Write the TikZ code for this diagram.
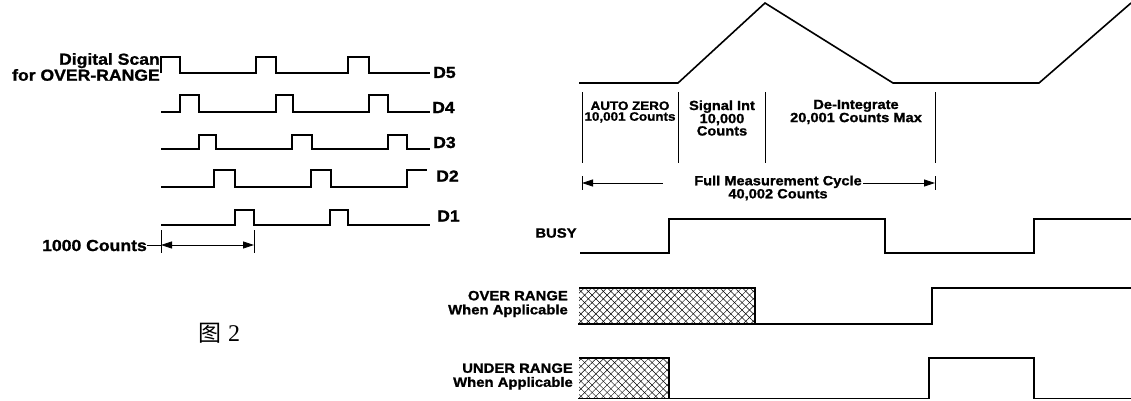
\documentclass[tikz,border=0pt]{standalone}
\usepackage{fontspec}
\newfontfamily\lbl{Liberation Sans}[FakeStretch=1.1,FakeBold=1.2]
\newfontfamily\cjk{Noto Sans CJK SC}
\newfontfamily\serifnum{Liberation Serif}
\usetikzlibrary{arrows.meta,patterns.meta}
\tikzset{
  wave/.style={line width=1.6pt, line join=miter},
  sepline/.style={line width=0.8pt},
  dimline/.style={line width=0.8pt},
  lab/.style={font=\lbl\bfseries\fontsize{16}{13}\selectfont, inner sep=0pt},
  tlab/.style={font=\lbl\bfseries\fontsize{13.3}{10.8}\selectfont, inner sep=0pt, align=center},
  slab/.style={font=\lbl\bfseries\fontsize{13.5}{14}\selectfont, inner sep=0pt, align=right},
  tipr/.style={-{Triangle[length=11pt,width=7pt]}},
  tipl/.style={{Triangle[length=11pt,width=7pt]}-},
  tipb/.style={{Triangle[length=11pt,width=7pt]}-{Triangle[length=11pt,width=7pt]}},
  hatchA/.style={pattern={Lines[angle=45,distance=5.3pt,line width=0.5pt]}},
  hatchB/.style={pattern={Lines[angle=-45,distance=5.3pt,line width=0.5pt]}},
}
\begin{document}
\begin{tikzpicture}[x=1pt,y=-1pt]
\useasboundingbox (0,0) rectangle (1131,400);

% ---------------- left: digital scan ----------------
\node[lab, align=right, anchor=east] (scan) at (160,67) {Digital Scan\\for OVER-RANGE};
\draw[wave] (161,73)--(161,57)--(180,57)--(180,73)--(256,73)--(256,57)--(276,57)--(276,73)--(348,73)--(348,57)--(369,57)--(369,73)--(430,73);
\draw[wave] (161,112)--(180,112)--(180,95)--(199,95)--(199,112)--(276,112)--(276,95)--(293,95)--(293,112)--(369,112)--(369,95)--(388,95)--(388,112)--(430,112);
\draw[wave] (161,149)--(199,149)--(199,135)--(216,135)--(216,149)--(292,149)--(292,135)--(312,135)--(312,149)--(388,149)--(388,135)--(407,135)--(407,149)--(430,149);
\draw[wave] (161,187)--(214,187)--(214,170)--(235,170)--(235,187)--(311,187)--(311,170)--(331,170)--(331,187)--(407,187)--(407,170)--(427,170);
\draw[wave] (161,225)--(235,225)--(235,210)--(254,210)--(254,225)--(330,225)--(330,210)--(348,210)--(348,225)--(430,225);
\node[lab, anchor=west] (d5) at (433,72.5) {D5};
\node[lab, anchor=west] (d4) at (432,107.5) {D4};
\node[lab, anchor=west] (d3) at (433,142.5) {D3};
\node[lab, anchor=west] (d2) at (436,176) {D2};
\node[lab, anchor=west] (d1) at (437,216) {D1};

% 1000 counts
\node[lab, anchor=east] (kc) at (147,245.5) {1000 Counts};
\coordinate (k1t) at (161,230); \coordinate (k1b) at (161,253);
\coordinate (k2t) at (254,230); \coordinate (k2b) at (254,253);
\coordinate (k1) at (161,245); \coordinate (k2) at (254,245);
\draw[sepline] (k1t) -- (k1b);
\draw[sepline] (k2t) -- (k2b);
\draw[dimline] (kc.east |- k1) -- (k1);
\draw[dimline, tipb] (k1) -- (k2);

% figure caption
\node[inner sep=0pt, font=\cjk\fontsize{23}{23}\selectfont] (figa) at (209.5,333.5) {图};
\node[inner sep=0pt, font=\serifnum\fontsize{24}{24}\selectfont] (figb) at (234,334) {2};

% ---------------- right: integrator ----------------
\draw[wave] (579,83)--(678,83)--(765,3)--(893,83)--(1039,83)--(1131,3);
\draw[sepline] (582,92)--(582,163);
\draw[sepline] (678,92)--(678,163);
\draw[sepline] (765,92)--(765,163);
\draw[sepline] (935,92)--(935,163);
\node[tlab, font=\lbl\bfseries\fontsize{12.2}{10.8}\selectfont] (az) at (630,112) {AUTO ZERO\\10,001 Counts};
\node[tlab] (si) at (722,118) {Signal Int\\10,000\\Counts};
\node[tlab] (di) at (856,112) {De-Integrate\\20,001 Counts Max};

% full cycle
\node[tlab] (fc) at (778,188) {Full Measurement Cycle\\40,002 Counts};
\coordinate (f1t) at (582,176); \coordinate (f1b) at (582,190);
\coordinate (f2t) at (935,176); \coordinate (f2b) at (935,190);
\coordinate (f1) at (582,183); \coordinate (f2) at (935,183);
\coordinate (f1e) at (663,183); \coordinate (f2s) at (863,183);
\draw[sepline] (f1t) -- (f1b);
\draw[sepline] (f2t) -- (f2b);
\draw[dimline, tipl] (f1) -- (f1e);
\draw[dimline, tipr] (f2s) -- (f2);

% BUSY
\node[slab] (busy) at (556,233) {BUSY};
\draw[wave] (580,253)--(669,253)--(669,219)--(885,219)--(885,253)--(1034,253)--(1034,219)--(1131,219);

% OVER RANGE
\node[slab, anchor=east] (ovr) at (568,304) {OVER RANGE\\When Applicable};
\fill[hatchA] (579,288) rectangle (755,324);
\fill[hatchB] (579,288) rectangle (755,324);
\draw[wave] (579,288)--(755,288)--(755,324);
\draw[wave] (578,324)--(932,324)--(932,288)--(1131,288);

% UNDER RANGE
\node[slab, anchor=east] (udr) at (573,376.5) {UNDER RANGE\\When Applicable};
\fill[hatchA] (579,358) rectangle (669,398.5);
\fill[hatchB] (579,358) rectangle (669,398.5);
\draw[wave] (579,358)--(669,358)--(669,398.5);
\draw[wave] (578,398.5)--(929,398.5)--(929,358)--(1034,358)--(1034,398.5)--(1131,398.5);
\end{tikzpicture}
\end{document}
